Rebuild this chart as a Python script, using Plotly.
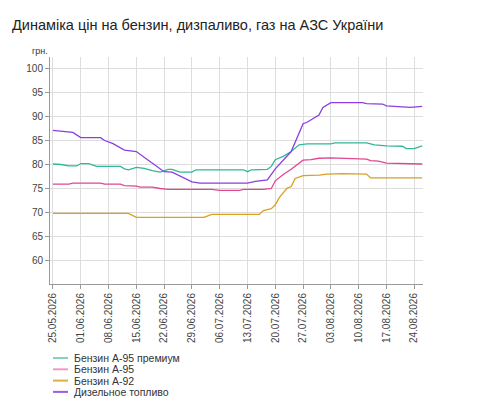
import plotly.graph_objects as go

title_text = "Динаміка цін на бензин, дизпаливо, газ на АЗС України"
unit_label = "грн."

premium_dates = ["2026-05-25","2026-05-27","2026-05-29","2026-05-31","2026-06-01","2026-06-03","2026-06-05",
                 "2026-06-11","2026-06-12","2026-06-13","2026-06-15","2026-06-17","2026-06-19","2026-06-21",
                 "2026-06-23","2026-06-24","2026-06-26","2026-06-29","2026-06-30","2026-07-12","2026-07-13",
                 "2026-07-14","2026-07-18","2026-07-19","2026-07-20","2026-07-22","2026-07-24","2026-07-26",
                 "2026-07-28","2026-08-03","2026-08-04","2026-08-12","2026-08-14","2026-08-17","2026-08-21",
                 "2026-08-22","2026-08-24","2026-08-26"]
premium_vals = [80.0,79.9,79.6,79.6,80.1,80.1,79.5,
                79.5,79.0,78.8,79.3,79.1,78.6,78.3,
                78.9,78.9,78.3,78.3,78.8,78.8,78.4,
                78.8,78.9,79.5,80.9,81.6,82.6,84.0,
                84.2,84.2,84.4,84.4,84.0,83.8,83.7,
                83.2,83.2,83.8]

a95_dates = ["2026-05-25","2026-05-29","2026-05-30","2026-06-06","2026-06-07","2026-06-11","2026-06-12",
             "2026-06-15","2026-06-16","2026-06-19","2026-06-21","2026-06-23","2026-07-04","2026-07-06",
             "2026-07-11","2026-07-12","2026-07-17","2026-07-19","2026-07-20","2026-07-22","2026-07-24",
             "2026-07-26","2026-07-27","2026-07-29","2026-07-31","2026-08-03","2026-08-07","2026-08-09",
             "2026-08-12","2026-08-13","2026-08-15","2026-08-17","2026-08-23","2026-08-26"]
a95_vals = [75.8,75.8,76.0,76.0,75.8,75.8,75.5,
            75.4,75.2,75.2,74.9,74.7,74.7,74.5,
            74.5,74.7,74.7,74.9,76.5,77.8,78.9,
            80.2,80.8,80.9,81.2,81.3,81.2,81.0,
            81.0,80.7,80.6,80.2,80.1,80.0]

a92_dates = ["2026-05-25","2026-06-13","2026-06-15","2026-07-02","2026-07-04","2026-07-08","2026-07-09",
             "2026-07-10","2026-07-16","2026-07-17","2026-07-19","2026-07-20","2026-07-21","2026-07-23",
             "2026-07-24","2026-07-25","2026-07-27","2026-07-31","2026-08-02","2026-08-06","2026-08-09",
             "2026-08-12","2026-08-13","2026-08-26"]
a92_vals = [69.7,69.7,68.9,68.9,69.5,69.5,69.4,
            69.5,69.5,70.3,70.7,71.5,73.0,75.0,
            75.3,77.0,77.6,77.7,77.9,78.0,78.0,
            77.9,77.1,77.1]

diesel_dates = ["2026-05-25","2026-05-29","2026-05-30","2026-06-01","2026-06-06","2026-06-07","2026-06-09",
                "2026-06-12","2026-06-15","2026-06-18","2026-06-22","2026-06-24","2026-06-27","2026-06-29",
                "2026-07-01","2026-07-13","2026-07-15","2026-07-18","2026-07-20","2026-07-24","2026-07-27",
                "2026-07-28","2026-07-31","2026-08-01","2026-08-03","2026-08-11","2026-08-12","2026-08-16",
                "2026-08-17","2026-08-20","2026-08-23","2026-08-26"]
diesel_vals = [87.0,86.8,86.6,85.5,85.5,84.9,84.3,
               82.9,82.6,80.8,78.4,78.3,77.0,76.3,
               76.0,76.0,76.4,76.7,79.0,82.6,88.4,
               88.7,90.2,91.8,92.8,92.8,92.6,92.5,
               92.1,92.0,91.8,92.0]

tick_dates = ["2026-05-25","2026-06-01","2026-06-08","2026-06-15","2026-06-22","2026-06-29","2026-07-06",
              "2026-07-13","2026-07-20","2026-07-27","2026-08-03","2026-08-10","2026-08-17","2026-08-24"]
y_ticks = [60, 65, 70, 75, 80, 85, 90, 95, 100]

series = [
    ("Бензин А-95 премиум", premium_dates, premium_vals, "#2fb897", "rgba(47,184,151,0.6)"),
    ("Бензин А-95", a95_dates, a95_vals, "#e0478f", "rgba(224,71,143,0.55)"),
    ("Бензин А-92", a92_dates, a92_vals, "#d9a022", "rgba(217,160,34,0.85)"),
    ("Дизельное топливо", diesel_dates, diesel_vals, "#8b3fe0", "rgba(139,63,224,0.85)"),
]

# page body has an 8px margin; work in reference-image pixels and subtract it
OFF = 8
W, H = 490 - OFF, 405 - OFF
L = 50 - OFF
R = W - (423 - OFF)
T = 57 - OFF
B = H - (284 - OFF)
pw, ph = W - L - R, H - T - B

def px_x(x):
    return (x - OFF - L) / pw

def px_y(y):
    return (H - B - (y - OFF)) / ph

fig = go.Figure()
shapes = []
annotations = []
for i, (name, xs, ys, col, lcol) in enumerate(series):
    fig.add_trace(go.Scatter(x=xs, y=ys, name=name, mode="lines",
                             line=dict(color=col, width=1.3), hoverinfo="skip",
                             showlegend=False))
    ly = 358 + i * 11.3
    shapes.append(dict(type="line", xref="paper", yref="paper",
                       x0=px_x(53), x1=px_x(68), y0=px_y(ly), y1=px_y(ly),
                       line=dict(color=lcol, width=2)))
    annotations.append(dict(text=name, xref="paper", yref="paper", x=px_x(72), y=px_y(ly),
                            xanchor="left", yanchor="middle", showarrow=False,
                            font=dict(size=10.5, color="#333")))

annotations.append(dict(text=unit_label, xref="paper", yref="paper", x=px_x(50), y=px_y(51),
                        xanchor="right", yanchor="middle", showarrow=False,
                        font=dict(size=9, color="#333")))

font_family = "Liberation Sans, Arial, sans-serif"
fig.update_layout(
    width=W, height=H,
    margin=dict(l=L, r=R, t=T, b=B, autoexpand=False),
    paper_bgcolor="white", plot_bgcolor="white",
    font=dict(family=font_family, color="#444", size=10),
    title=dict(text=title_text, x=(12 - OFF) / W, xanchor="left", y=1 - (25 - OFF) / H,
               yanchor="middle",
               font=dict(size=14.5, color="#222", family=font_family)),
    showlegend=False,
    xaxis=dict(type="date", range=["2026-05-24 06:00", "2026-08-26 05:00"],
               tickvals=tick_dates, tickformat="%d.%m.%Y", tickangle=-90,
               showgrid=True, gridcolor="#dddddd", gridwidth=1,
               showline=True, linecolor="#999", linewidth=1,
               ticks="outside", ticklen=4, tickcolor="#999",
               tickfont=dict(size=10, color="#444"), zeroline=False),
    yaxis=dict(range=[55, 102.3], tickvals=y_ticks,
               showgrid=True, gridcolor="#dddddd", gridwidth=1,
               showline=True, linecolor="#999", linewidth=1,
               ticks="outside", ticklen=4, tickcolor="#999",
               tickfont=dict(size=10, color="#444"), zeroline=False),
    shapes=shapes,
    annotations=annotations,
)

fig.write_html("out.html")
